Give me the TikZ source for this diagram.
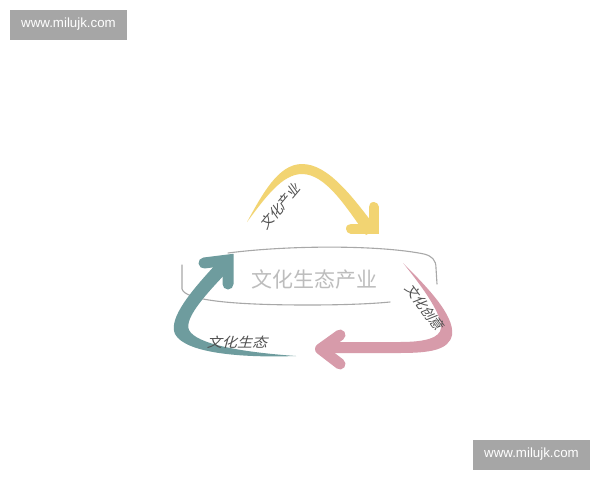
\documentclass[tikz,border=0pt]{standalone}
\usepackage{fontspec}
\setmainfont{Liberation Sans}
\newfontfamily\cjk{Noto Sans CJK SC}
\newfontfamily\cjkit[FakeSlant=0.25]{Noto Sans CJK SC}
\definecolor{ayellow}{HTML}{F2D472}
\definecolor{ateal}{HTML}{6E9C9E}
\definecolor{apink}{HTML}{D79BAA}
\definecolor{wmgray}{HTML}{A6A6A6}
\definecolor{labelgray}{HTML}{505050}
\definecolor{bandgray}{HTML}{A8A8A8}
\definecolor{titlegray}{HTML}{BDBDBD}
\tikzset{
  bandline/.style={draw=bandgray, line width=1.1pt, line cap=round},
  headline/.style={line width=#1, line cap=round},
  lbl/.style={text=labelgray, inner sep=0pt, font=\cjkit\fontsize{13.5}{13.5}\selectfont},
  wm/.style={fill=wmgray, text=white, minimum width=117pt, minimum height=30pt, inner sep=0pt, font=\fontsize{13.3}{13.3}\selectfont}
}
\begin{document}
\begin{tikzpicture}[x=1pt,y=-1pt]
\useasboundingbox (0,0) rectangle (600,480);
\fill[white] (0,0) rectangle (600,480);

% band
\draw[bandline] (228,253) .. controls (290,245) and (380,245) .. (424,254) .. controls (432,256) and (436,260) .. (436,268) -- (437,284);
\draw[bandline] (182,265) -- (182,289) .. controls (185,300) and (230,305) .. (308,305) .. controls (340,305) and (370,304) .. (390,302);

% yellow arrow
\fill[ayellow] (247,222) .. controls (262,195) and (278,164) .. (302,164) .. controls (328,164) and (352,196) .. (377,229) -- (366,235) .. controls (345,205) and (325,174) .. (302,174) .. controls (282,174) and (265,198) .. (247,222) -- cycle;
\draw[ayellow, headline=10pt, line join=miter] (373.5,207) -- (373.5,228.5) -- (351,228.5);

% teal arrow
\fill[ateal] (296,356) .. controls (240,358) and (185,353) .. (175,334) .. controls (168,318) and (192,290) .. (218,262) -- (229,270) .. controls (206,294) and (184,318) .. (189,330) .. controls (196,344) and (240,352) .. (296,356) -- cycle;
\draw[ateal, headline=11pt, line join=miter] (204,263) -- (228,260) -- (228,284);

% pink arrow
\fill[apink] (403,263) .. controls (425,285) and (455,315) .. (452,335) .. controls (449,350) and (430,353) .. (400,353) -- (330,353) -- (330,342) -- (400,342) .. controls (425,342) and (440,338) .. (441,328) .. controls (442,315) and (425,290) .. (403,263) -- cycle;
\draw[apink, headline=11pt, line join=round] (340,335) -- (320.5,349) -- (340,364);

% texts
\node[text=titlegray, inner sep=0pt, font=\cjk\fontsize{21}{21}\selectfont] (title) at (314,280) {文化生态产业};
\node[lbl, rotate=50] (l1) at (280,207) {文化产业};
\node[lbl, xscale=1.12] (l2) at (237,342) {文化生态};
\node[lbl, rotate=-54] (l3) at (425,307) {文化创意};

% watermarks
\node[wm] (wm1) at (68.5,24.5) {www.milujk.com};
\node[wm] (wm2) at (531.5,454.5) {www.milujk.com};
\end{tikzpicture}
\end{document}
